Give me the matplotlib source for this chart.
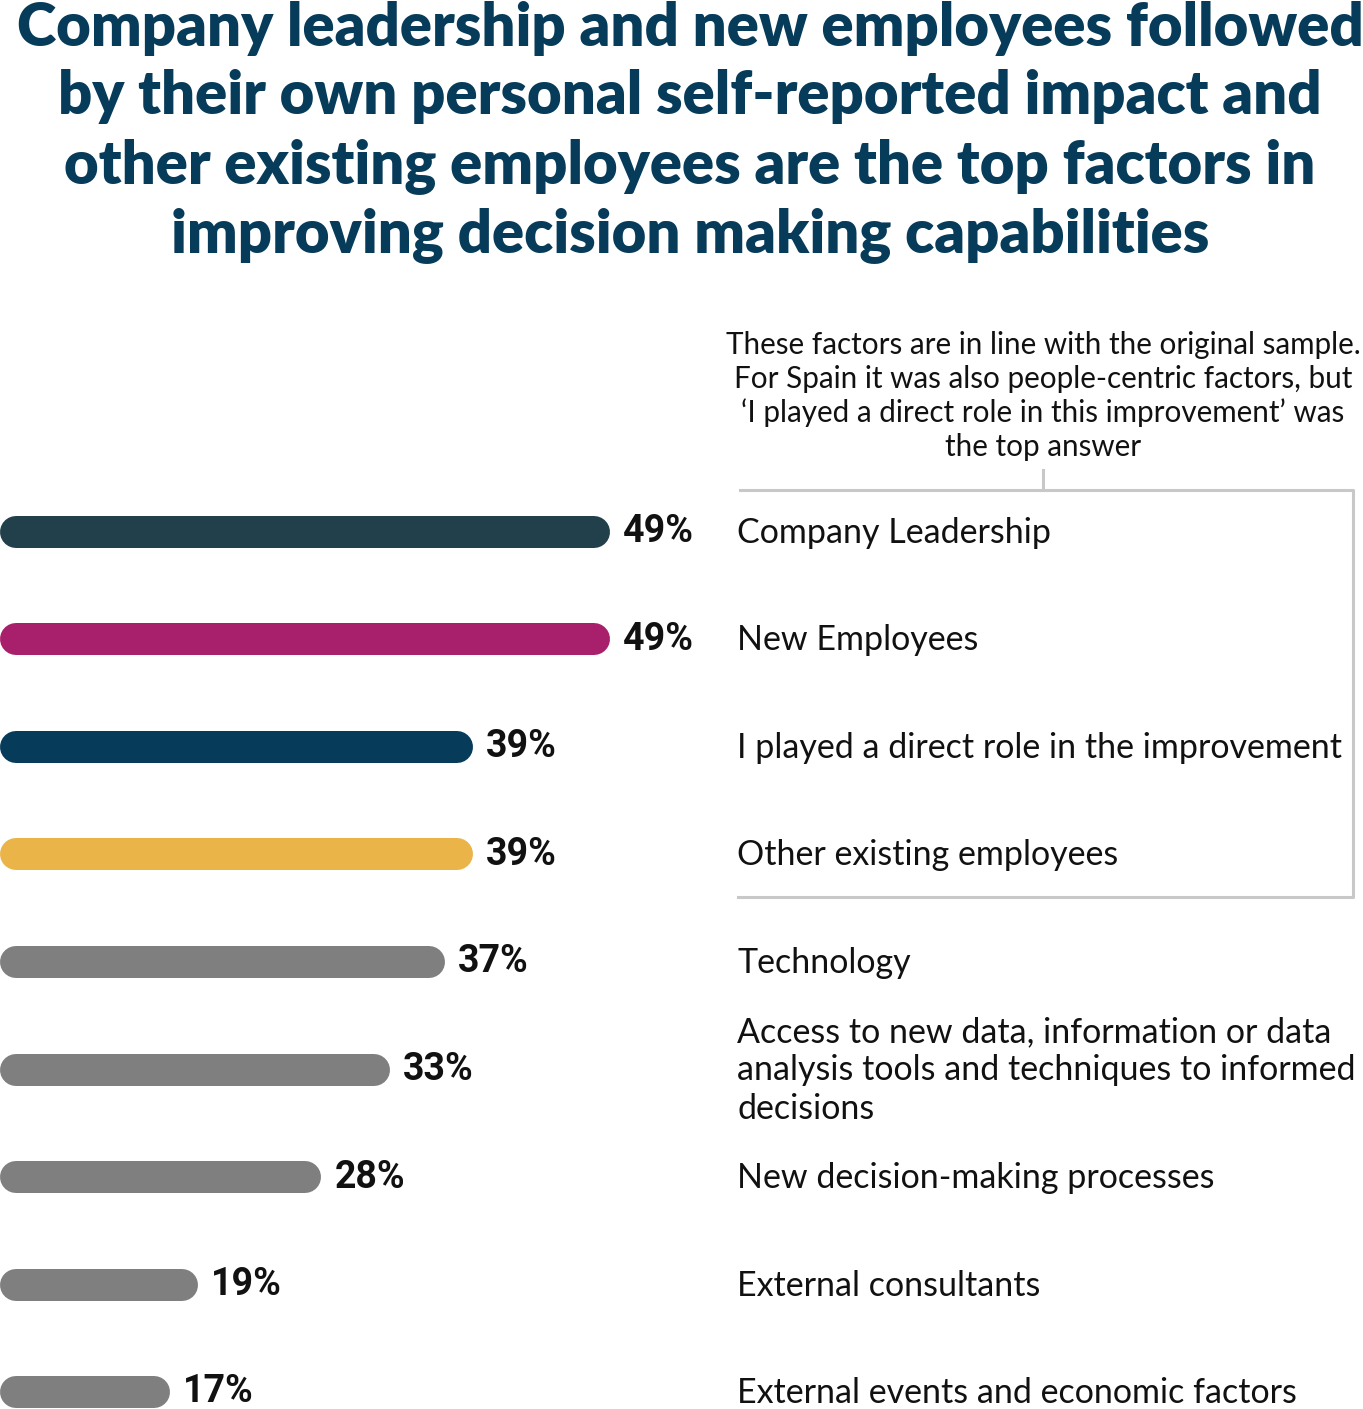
import matplotlib.pyplot as plt
from matplotlib.lines import Line2D

categories = [
    "Company Leadership",
    "New Employees",
    "I played a direct role in the improvement",
    "Other existing employees",
    "Technology",
    "Access to new data, information or data\nanalysis tools and techniques to informed\ndecisions",
    "New decision-making processes",
    "External consultants",
    "External events and economic factors",
]
values = [49, 49, 39, 39, 37, 33, 28, 19, 17]
colors = ["#22404b", "#a8206b", "#063b5a", "#eab449",
          "#7f7f7f", "#7f7f7f", "#7f7f7f", "#7f7f7f", "#7f7f7f"]

title = ("Company leadership and new employees followed\n"
         "by their own personal self-reported impact and\n"
         "other existing employees are the top factors in\n"
         "improving decision making capabilities")
note = ("These factors are in line with the original sample.\n"
        "For Spain it was also people-centric factors, but\n"
        "\u2018I played a direct role in this improvement\u2019 was\n"
        "the top answer")

W, H = 1363, 1409
fig = plt.figure(figsize=(W / 100, H / 100), dpi=100)
ax = fig.add_axes([0, 0, 1, 1])

# scale: pixels per percent and where the axis starts
ppu = 13.75
x0 = 4.636
row_px = 107.5
row0 = 532
ax.set_xlim(x0, x0 + W / ppu)
ax.set_ylim((H - row0) / row_px, -row0 / row_px)
ax.axis("off")

bar_px = 32
cap = (bar_px / 2) / ppu
lw = bar_px * 72 / 100
for i, (v, c) in enumerate(zip(values, colors)):
    ax.hlines(i, x0 + cap, v - cap, color=c, lw=lw, capstyle="round")
    ax.text(v + 13 / ppu, i, f"{v}%", ha="left", va="center",
            fontsize=27, fontweight="bold", color="#111111",
            family=["Roboto", "DejaVu Sans"])

label_x = x0 + 737 / ppu
for i, lab in enumerate(categories):
    ax.text(label_x, i + 1 / row_px, lab, ha="left", va="center",
            fontsize=24.5, color="#111111", family="Lato", linespacing=1.24)

# title and note
fig.text(690 / W, 1 - 132 / H, title, ha="center", va="center",
         fontsize=43, fontweight="heavy", color="#063b5a",
         family="Lato", linespacing=1.29)
fig.text(1043 / W, 1 - 396 / H, note, ha="center", va="center",
         fontsize=21.3, color="#111111", family="Lato", linespacing=1.24)

# bracket
gray = "#c8c8c8"
def px_line(xs, ys):
    fig.add_artist(Line2D([x / W for x in xs], [1 - y / H for y in ys],
                          color=gray, lw=2.2))
px_line([1043, 1043], [470, 490])
px_line([740, 1353, 1353, 738], [490, 490, 897, 897])

fig.savefig("out.png", dpi=100)
